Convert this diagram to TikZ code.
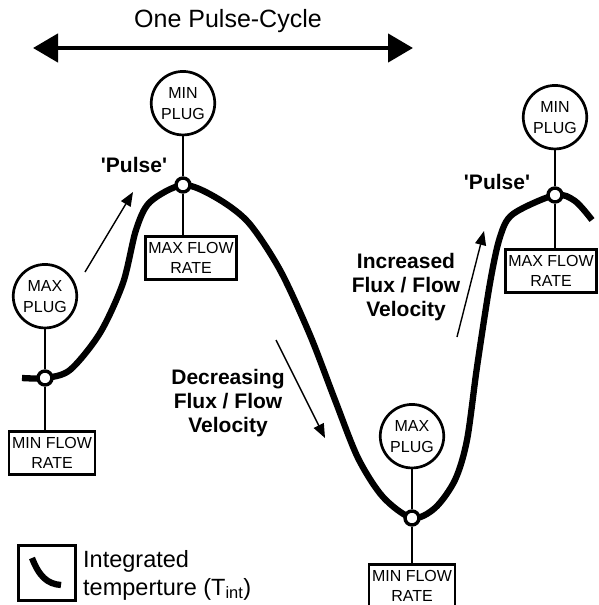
\documentclass[tikz,border=0pt]{standalone}
\usepackage{fontspec}
\setmainfont{Liberation Sans}
\usetikzlibrary{positioning,arrows.meta}

\begin{document}
\begin{tikzpicture}[x=1pt, y=-1pt, node distance=40pt,
    every node/.style={font=\fontsize{16}{20}\selectfont, align=center},
    plug/.style={circle, draw, line width=2.7pt, minimum size=63.5pt, inner sep=0pt, font=\fontsize{16}{21}\selectfont},
    flowbox/.style={draw, line width=2.8pt, inner xsep=3pt, minimum height=43.5pt},
    dot/.style={circle, draw, line width=3.4pt, fill=white, minimum size=14pt, inner sep=0pt},
    stem/.style={line width=1.8pt},
    pulse/.style={font=\fontsize{21}{24}\selectfont\bfseries},
    note/.style={font=\fontsize{21}{24}\selectfont\bfseries},
    trend/.style={-{Triangle[length=14pt, width=11pt]}, line width=1.4pt},
    curve/.style={line width=6.3pt, line join=round}]
    \useasboundingbox (0,0) rectangle (598,605);

    \node (cycle) at (228,21) [font=\fontsize{25}{30}\selectfont] {One Pulse-Cycle};
    \coordinate (cycleL) at (33,48);
    \coordinate (cycleR) at (413,48);
    \draw[{Triangle[length=25pt, width=28pt]}-{Triangle[length=25pt, width=28pt]}, line width=4.5pt] (cycleL) -- (cycleR);

    \draw[curve] plot[smooth, tension=0.5] coordinates {(22,378) (45,378) (70,370) (100,333) (123,283) (136,230) (150,202) (183,185) (215,197) (248,222) (280,270) (310,335) (335,400) (358,458) (383,497) (412,518) (435,508) (455,480) (467,440) (477,367) (490,283) (500,237) (513,214) (555,195) (575,201) (592,220)};

    \node (lowA) at (45,378) [dot] {};
    \node (peakA) at (183,185) [dot] {};
    \node (lowB) at (412,518) [dot] {};
    \node (peakB) at (555,195) [dot] {};

    \node (plugLowA) [plug, above=40pt of lowA] {MAX\\PLUG};
    \node (plugPeakA) [plug, above=40pt of peakA] {MIN\\PLUG};
    \node (plugLowB) [plug, above=40pt of lowB] {MAX\\PLUG};
    \node (plugPeakB) [plug, above=36pt of peakB] {MIN\\PLUG};

    \node (rateLowA) [flowbox, below=43pt of lowA, xshift=7pt] {MIN FLOW\\RATE};
    \node (ratePeakA) [flowbox, below=41pt of peakA, xshift=8pt] {MAX FLOW\\RATE};
    \node (rateLowB) [flowbox, below=36pt of lowB] {MIN FLOW\\RATE};
    \node (ratePeakB) [flowbox, below=44pt of peakB, xshift=-4pt] {MAX FLOW\\RATE};

    \draw[stem] (plugLowA) -- (lowA);
    \draw[stem] (plugPeakA) -- (peakA);
    \draw[stem] (plugLowB) -- (lowB);
    \draw[stem] (plugPeakB) -- (peakB);
    \draw[stem] (lowA) -- (lowA |- rateLowA.north);
    \draw[stem] (peakA) -- (peakA |- ratePeakA.north);
    \draw[stem] (lowB) -- (lowB |- rateLowB.north);
    \draw[stem] (peakB) -- (peakB |- ratePeakB.north);

    \node (pulseA) at (134,165) [pulse] {\textquotesingle Pulse\textquotesingle};
    \node (pulseB) at (497,182) [pulse] {\textquotesingle Pulse\textquotesingle};
    \node (falling) at (228,403) [note] {Decreasing\\Flux / Flow\\Velocity};
    \node (rising) at (406,287) [note] {Increased\\Flux / Flow\\Velocity};

    \coordinate (riseA0) at (85,272);
    \coordinate (riseA1) at (133,192);
    \coordinate (fall0) at (276,340);
    \coordinate (fall1) at (325,438);
    \coordinate (riseB0) at (457,337);
    \coordinate (riseB1) at (484,231);
    \draw[trend] (riseA0) -- (riseA1);
    \draw[trend] (fall0) -- (fall1);
    \draw[trend] (riseB0) -- (riseB1);

    \node (key) at (47,573) [draw, line width=2.7pt, minimum width=57.5pt, minimum height=55.5pt] {};
    \coordinate (keyTop) at (32,558);
    \coordinate (keyEnd) at (61,585);
    \draw[curve] (keyTop) .. controls (39,576) and (47,584) .. (keyEnd);
    \node (keyText) at (83,575) [anchor=west, inner sep=0pt, align=left, font=\fontsize{23.5}{28}\selectfont] {Integrated\\temperture (T\textsubscript{int})};
  \end{tikzpicture}
\end{document}
